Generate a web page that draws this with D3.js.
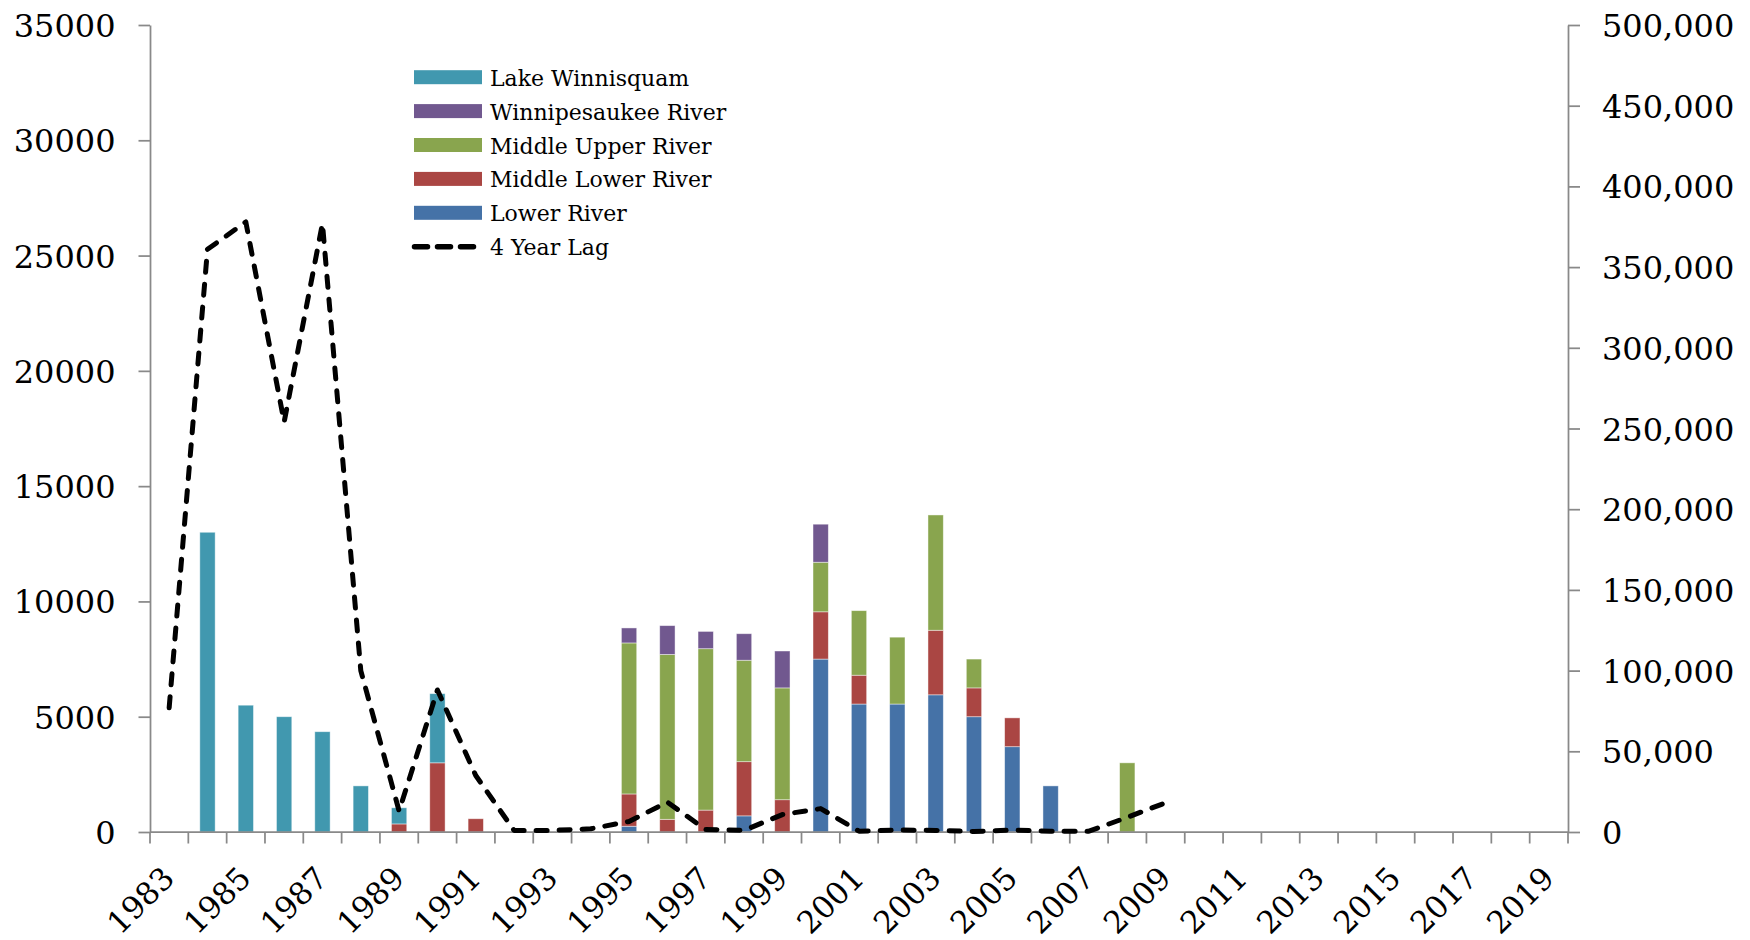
<!DOCTYPE html>
<html><head><meta charset="utf-8">
<script src="https://cdn.jsdelivr.net/npm/d3@7"></script>
<style>
body{margin:0;background:#fff}
svg{display:block}
text{font-family:"DejaVu Serif",serif;fill:#000}
</style>
</head><body>
<svg id="c" width="1750" height="940"></svg>
<script>
// ---- data ----
const years = [1983,1984,1985,1986,1987,1988,1989,1990,1991,1992,1993,1994,1995,1996,1997,1998,1999,2000,
               2001,2002,2003,2004,2005,2006,2007,2008,2009,2010,2011,2012,2013,2014,2015,2016,2017,2018,2019];
const xTickLabels = ["1983","1985","1987","1989","1991","1993","1995","1997","1999","2001","2003","2005","2007","2009","2011","2013","2015","2017","2019"];
const leftTicks = [0,5000,10000,15000,20000,25000,30000,35000];
const rightTicks = [0,50000,100000,150000,200000,250000,300000,350000,400000,450000,500000];

const lowerRiver       = [0,0,0,0,0,0,0,0,0,0,0,0,250,0,0,700,0,7500,5550,5550,5950,5000,3700,2000,0,0,0,0,0,0,0,0,0,0,0,0,0];
const middleLowerRiver = [0,0,0,0,0,0,350,3000,575,0,0,0,1400,550,950,2350,1400,2050,1250,0,2800,1250,1250,0,0,0,0,0,0,0,0,0,0,0,0,0,0];
const middleUpperRiver = [0,0,0,0,0,0,0,0,0,0,0,0,6550,7150,7000,4400,4850,2150,2800,2900,5000,1250,0,0,0,3000,0,0,0,0,0,0,0,0,0,0,0];
const winnipesaukeeRiver = [0,0,0,0,0,0,0,0,0,0,0,0,650,1250,750,1150,1600,1650,0,0,0,0,0,0,0,0,0,0,0,0,0,0,0,0,0,0,0];
const lakeWinnisquam   = [0,13000,5500,5000,4350,2000,700,3000,0,0,0,0,0,0,0,0,0,0,0,0,0,0,0,0,0,0,0,0,0,0,0,0,0,0,0,0,0];
const fourYearLag = [77000,361000,378000,254000,377000,100000,13000,88000,35000,1000,1000,2000,6500,18500,1500,1000,10800,14500,
                     500,1200,1000,300,1200,500,500,9100,18100,null,null,null,null,null,null,null,null,null,null];

const seriesNames = ["Lower River","Middle Lower River","Middle Upper River","Winnipesaukee River","Lake Winnisquam"];
const seriesColors = ["#4572A7","#AA4643","#89A54E","#71588F","#4198AF"];
const lineName = "4 Year Lag";

// ---- build ----
const seriesArrays = [lowerRiver, middleLowerRiver, middleUpperRiver, winnipesaukeeRiver, lakeWinnisquam];
const table = years.map((y,i) => {
  const r = {year: y};
  seriesNames.forEach((n,k) => r[n] = seriesArrays[k][i]);
  return r;
});
const stacked = d3.stack().keys(seriesNames)(table);

const svg = d3.select("#c");
const X0 = 150, X1 = 1568, Y0 = 832, Y1 = 25;
const axisColor = "#898989";

const x = d3.scaleBand().domain(years).range([X0, X1]).padding(0);
const yL = d3.scaleLinear().domain([0,35000]).range([Y0, Y1]);
const yR = d3.scaleLinear().domain([0,500000]).range([Y0, Y1]);
const bw = x.bandwidth() * 0.4;

// bars
svg.append("g").selectAll("g").data(stacked).join("g")
  .attr("fill", (d,i) => seriesColors[i])
  .selectAll("rect").data(d => d.filter(p => p[1] - p[0] > 0)).join("rect")
  .attr("x", d => x(d.data.year) + (x.bandwidth() - bw)/2)
  .attr("width", bw)
  .attr("y", d => yL(d[1]))
  .attr("height", d => yL(d[0]) - yL(d[1]))
  .attr("stroke", "rgba(255,255,255,0.55)")
  .attr("stroke-width", 0.8);

// axes
const fmtL = d3.format("d");
const fmtR = d3.format(",");
const gL = svg.append("g").attr("transform", `translate(${X0},0)`)
  .call(d3.axisLeft(yL).tickValues(leftTicks).tickSize(11.5).tickSizeOuter(0).tickPadding(23).tickFormat(fmtL));
const gR = svg.append("g").attr("transform", `translate(${X1},0)`)
  .call(d3.axisRight(yR).tickValues(rightTicks).tickSize(12).tickSizeOuter(0).tickPadding(22).tickFormat(fmtR));
[gL, gR].forEach(g => {
  g.select(".domain").attr("stroke", axisColor).attr("stroke-width", 1.75);
  g.selectAll(".tick line").attr("stroke", axisColor).attr("stroke-width", 1.75);
  g.selectAll(".tick text").attr("font-family", "DejaVu Serif").attr("font-size", 32).attr("fill", "#000").attr("dy", "0.36em");
});

// x axis: ticks at category boundaries
const bounds = years.map(y => x(y)).concat([X1]);
const gX = svg.append("g");
gX.append("line").attr("x1", X0).attr("x2", X1).attr("y1", Y0).attr("y2", Y0)
  .attr("stroke", axisColor).attr("stroke-width", 1.75);
gX.selectAll("line.t").data(bounds).join("line").attr("class","t")
  .attr("x1", d => d).attr("x2", d => d).attr("y1", Y0).attr("y2", Y0 + 11.5)
  .attr("stroke", axisColor).attr("stroke-width", 1.75);
gX.selectAll("text").data(xTickLabels).join("text")
  .attr("transform", d => `translate(${x(+d) + x.bandwidth()/2 + 7},${Y0 + 48}) rotate(-45)`)
  .attr("text-anchor", "end")
  .attr("font-size", 31)
  .text(d => d);

// line
const line = d3.line()
  .defined(d => d != null)
  .x((d,i) => x(years[i]) + x.bandwidth()/2)
  .y(d => yR(d));
svg.append("path").datum(fourYearLag)
  .attr("d", line)
  .attr("fill", "none").attr("stroke", "#000").attr("stroke-width", 5)
  .attr("stroke-dasharray", "11,12").attr("stroke-linecap", "round").attr("stroke-linejoin", "round");

// legend
const legendItems = [
  {name: "Lake Winnisquam", color: seriesColors[4]},
  {name: "Winnipesaukee River", color: seriesColors[3]},
  {name: "Middle Upper River", color: seriesColors[2]},
  {name: "Middle Lower River", color: seriesColors[1]},
  {name: "Lower River", color: seriesColors[0]},
  {name: lineName, color: null}
];
const lg = svg.append("g");
legendItems.forEach((it, i) => {
  const cy = 77.2 + i * 33.9;
  if (it.color) {
    lg.append("rect").attr("x", 414).attr("y", cy - 7).attr("width", 68).attr("height", 14).attr("fill", it.color);
  } else {
    lg.append("line").attr("x1", 414.5).attr("x2", 474).attr("y1", cy).attr("y2", cy)
      .attr("stroke", "#000").attr("stroke-width", 5.5).attr("stroke-dasharray", "13,10").attr("stroke-linecap", "round");
  }
  lg.append("text").attr("x", 490).attr("y", cy + 8.5).attr("font-size", 22).text(it.name);
});
</script>
</body></html>
